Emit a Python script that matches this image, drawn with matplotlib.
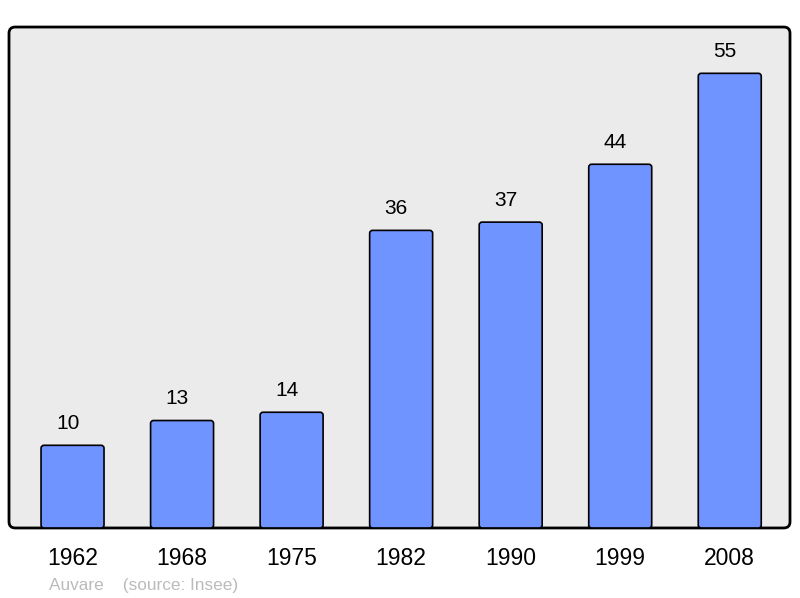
import matplotlib.pyplot as plt
from matplotlib.patches import FancyBboxPatch

# Population data (Insee)
years = ['1962', '1968', '1975', '1982', '1990', '1999', '2008']
population = [10, 13, 14, 36, 37, 44, 55]

plt.rcParams['font.family'] = ['Liberation Sans', 'DejaVu Sans']

fig = plt.figure(figsize=(8, 5.98), dpi=100)
ax = fig.add_axes([0.01125, 0.1171, 0.97625, 0.8377])

# background frame with rounded corners
ax.patch.set_visible(False)
frame = FancyBboxPatch((0, 0), 1, 1, boxstyle='round,pad=0,rounding_size=0.008',
                       transform=ax.transAxes, facecolor='#ebebeb', edgecolor='black',
                       linewidth=2, mutation_aspect=800 / 598 * 0.97625 / 0.8377,
                       clip_on=False, zorder=0)
ax.add_patch(frame)
for s in ax.spines.values():
    s.set_visible(False)

x = list(range(len(years)))
bars = ax.bar(x, population, width=0.575, color='#7094ff', edgecolor='black')

# swap plain rectangles for rounded ones
for b in bars:
    rb = FancyBboxPatch(b.get_xy(), b.get_width(), b.get_height(),
                        boxstyle='round,pad=0,rounding_size=0.027',
                        mutation_aspect=13.2, facecolor='#7094ff',
                        edgecolor='black', linewidth=1.2, zorder=2)
    ax.add_patch(rb)
    b.set_visible(False)

for xi, v in zip(x, population):
    ax.annotate(str(v), (xi, v), xytext=(-3.5, 9), textcoords='offset points',
                ha='center', va='bottom', fontsize=15)

ax.set_xlim(-0.58, 6.55)
ax.set_ylim(0, 60.6)
ax.set_xticks(x)
ax.set_xticklabels(years, fontsize=16.5)
ax.tick_params(axis='x', length=0, pad=14)
ax.set_yticks([])

fig.text(49 / 800, 1 - 590 / 598, 'Auvare    (source: Insee)', fontsize=12.4,
         color='#bbbbbb', va='baseline')

fig.savefig('out.png', dpi=100)
